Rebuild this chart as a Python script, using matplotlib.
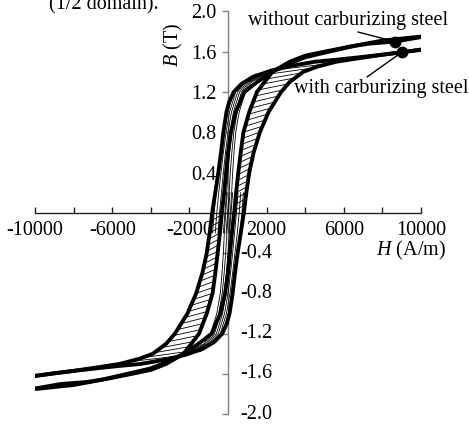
import numpy as np
import matplotlib
matplotlib.use("Agg")
import matplotlib.pyplot as plt

plt.rcParams['font.family'] = ['Liberation Serif', 'DejaVu Serif']
plt.rcParams['mathtext.fontset'] = 'custom'
plt.rcParams['mathtext.rm'] = 'Liberation Serif'
plt.rcParams['mathtext.it'] = 'Liberation Serif:italic'

# ---- data (H in A/m, B in T) ----
# ascending branch, loop without carburizing steel (descending branch is point-symmetric)
W_up_H = [-10000, -8000, -6600, -5000, -4000, -3000, -2300, -1450, -850, -400, -150, 0, 100, 200, 320,
          420, 535, 660, 800, 1100, 1500, 1900, 2300, 3200, 4000, 5000, 6300, 7300, 8650, 10000]
W_up_B = [-1.75, -1.71, -1.66, -1.59, -1.545, -1.47, -1.40, -1.29, -1.20, -1.00, -0.80, -0.60, -0.40, -0.20, 0.0,
          0.20, 0.40, 0.60, 0.80, 1.00, 1.20, 1.30, 1.40, 1.50, 1.56, 1.60, 1.65, 1.68, 1.70, 1.745]
# ascending branch, loop with carburizing steel
C_up_H = [-10000, -9000, -8000, -6600, -5600, -4500, -3300, -2200, -1300, -700, -300, -60, 80, 240, 360, 500, 660, 820,
          950, 1100, 1330, 1650, 2100, 2750, 3200, 3900, 4600, 5600, 6600, 8000, 9000, 10000]
C_up_B = [-1.62, -1.594, -1.57, -1.54, -1.52, -1.50, -1.46, -1.41, -1.35, -1.28, -1.20, -1.10, -1.00, -0.80, -0.60, -0.40, -0.20, 0.0,
          0.20, 0.40, 0.60, 0.80, 1.00, 1.20, 1.30, 1.40, 1.45, 1.50, 1.53, 1.57, 1.594, 1.62]
# thin inner descending branches, H at the B levels thin_B (point-symmetric copies drawn too)
thin_B = [-0.2, 0.0, 0.2, 0.4, 0.6, 0.8, 1.0, 1.2, 1.3, 1.38]
thin_H = [
    [-800, -720, -620, -480, -340, -200, -20, 300, 750, 1450],
    [-660, -580, -480, -360, -240, -100, 80, 400, 830, 1550],
    [-520, -440, -340, -240, -130, 0, 180, 500, 910, 1650],
    [-380, -300, -200, -120, -20, 100, 280, 600, 990, 1750],
    [-240, -160, -70, 0, 90, 200, 380, 700, 1070, 1850],
    [-100, -20, 60, 120, 200, 300, 480, 800, 1150, 1950],
    [40, 120, 190, 240, 310, 400, 580, 900, 1230, 2050],
]
# B levels where hatch lines start on the W ascending branch
hatch_B = [0.02, 0.08, 0.14, 0.20, 0.26, 0.32, 0.38, 0.44, 0.50, 0.56, 0.62, 0.68, 0.74,
           0.80, 0.86, 0.92, 0.98, 1.04, 1.10, 1.16, 1.22, 1.28, 1.33, 1.38, 1.42]
hatch_rise = 0.06

# annotated points
mark_H = [8650, 9000]
mark_B = [1.70, 1.594]
labels = ["without carburizing steel", "with carburizing steel"]

x_ticks = [-10000, -8000, -6000, -4000, -2000, 0, 2000, 4000, 6000, 8000, 10000]
x_ticklabels = ["-10000", "", "-6000", "", "-2000", "", "2000", "", "6000", "", "10000"]
y_ticks = [-2.0, -1.6, -1.2, -0.8, -0.4, 0.4, 0.8, 1.2, 1.6, 2.0]

W = 469.0
Hh = 426.0
fig = plt.figure(figsize=(4.69, 4.26), dpi=100)
ax = fig.add_axes([35/W, 1-414.2/Hh, (421-35)/W, (414.2-11.4)/Hh])
ax.set_xlim(-10000, 10000)
ax.set_ylim(-2.0, 2.0)

W_up_H = np.array(W_up_H); W_up_B = np.array(W_up_B)
C_up_H = np.array(C_up_H); C_up_B = np.array(C_up_B)
tb = np.array(thin_B)

# thin inner branches
for row in thin_H:
    r = np.array(row)
    ax.plot(r, tb, color='black', lw=0.6, zorder=3)
    ax.plot(-r, -tb, color='black', lw=0.6, zorder=3)

# hatch lines between the two ascending (and the two descending) branches
for b in hatch_B:
    h0 = np.interp(b, W_up_B, W_up_H)
    h1 = np.interp(b + hatch_rise, C_up_B, C_up_H)
    ax.plot([h0, h1], [b, b + hatch_rise], color='black', lw=0.6, zorder=3)
    ax.plot([-h0, -h1], [-b, -b - hatch_rise], color='black', lw=0.6, zorder=3)

# major loops
for Hs, Bs in [(W_up_H, W_up_B), (C_up_H, C_up_B)]:
    ax.plot(Hs, Bs, color='black', lw=2.8, zorder=4, solid_capstyle='round', solid_joinstyle='round')
    ax.plot(-Hs, -Bs, color='black', lw=2.8, zorder=4, solid_capstyle='round', solid_joinstyle='round')

ax.plot(mark_H, mark_B, 'o', color='black', ms=7.5, zorder=5)

# spines through the origin
ax.spines['left'].set_position(('data', 0))
ax.spines['bottom'].set_position(('data', 0))
ax.spines['top'].set_visible(False)
ax.spines['right'].set_visible(False)
ax.spines['left'].set_color('#7f7f7f')
ax.spines['left'].set_linewidth(1.0)
ax.spines['bottom'].set_color('#222222')
ax.spines['bottom'].set_linewidth(1.0)

ax.set_xticks(x_ticks)
ax.set_xticklabels(x_ticklabels)
ax.tick_params(axis='x', direction='in', length=4, width=1, color='#222222',
               labelsize=14.5, pad=6)
ax.set_yticks(y_ticks)
ax.set_yticklabels([f"{v:.1f}" if v > 0 else "" for v in y_ticks])
ax.tick_params(axis='y', direction='out', length=4, width=1, color='#7f7f7f',
               labelsize=14.5, pad=4.5)
for v in y_ticks:
    if v < 0:
        ax.annotate(f"{v:.1f}", xy=(0, v), xycoords='data', xytext=(8.5, 0),
                    textcoords='offset points', ha='left', va='center', fontsize=14.5, zorder=1)

def fp(x, y):
    return (x / W, 1 - y / Hh)

fig.text(*fp(173, 45), "$B$ (T)", rotation=90, ha='center', va='center', fontsize=14.5)
fig.text(*fp(446, 250), "$H$ (A/m)", ha='right', va='center', fontsize=14.5)

fig.text(*fp(348, 20), labels[0], ha='center', va='center', fontsize=14.5)
fig.text(*fp(381, 88), labels[1], ha='center', va='center', fontsize=14.5)
for (sx, sy), mh, mb in zip([(358, 32), (367, 77)], mark_H, mark_B):
    ax.annotate("", xy=(mh, mb), xycoords='data', xytext=(sx, Hh - sy), textcoords='figure pixels',
                arrowprops=dict(arrowstyle='-', lw=1.0, color='black', shrinkA=0, shrinkB=0))

fig.text(49/W, 1-9/Hh, "(1/2 domain).", fontsize=14.5, ha='left', va='baseline')

fig.savefig("out.png", dpi=100)
